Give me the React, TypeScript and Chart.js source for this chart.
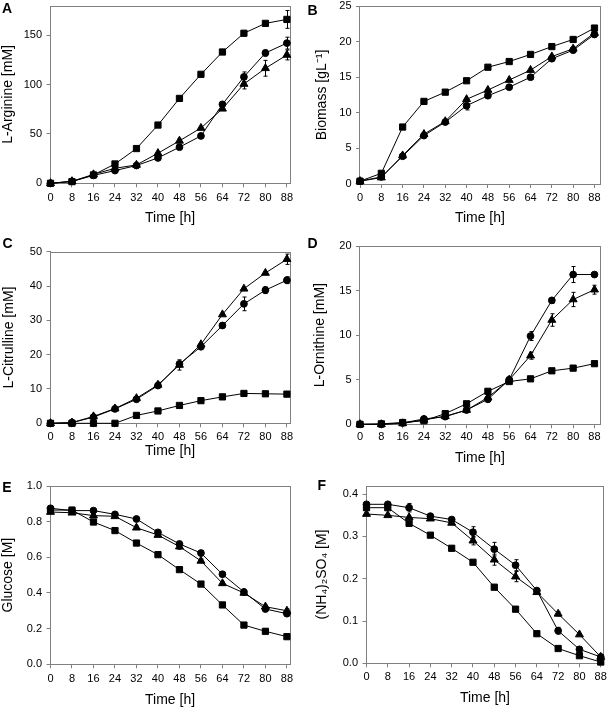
import React, { useEffect, useRef } from "react";
import { Chart, registerables } from "chart.js";

Chart.register(...registerables);

// ---------------- data ----------------
const timeH = [0, 8, 16, 24, 32, 40, 48, 56, 64, 72, 80, 88];
const xTickValues = [0, 8, 16, 24, 32, 40, 48, 56, 64, 72, 80, 88];

// A: L-Arginine [mM]
const argSquare = [0, 1.7, 8.5, 19.6, 35.2, 59, 86, 110.4, 133, 152, 162, 166];
const argCircle = [0, 2, 8, 12.9, 18, 25.7, 36.6, 48, 80, 107.8, 132, 142];
const argTriangle = [0, 2, 9, 15.2, 18.6, 30.5, 43, 56, 75.5, 100.6, 116.5, 130];
const argSquareErr = [0, 0, 0, 0, 0, 0, 0, 0, 0, 0, 2, 9];
const argCircleErr = [0, 0, 0, 0, 0, 0, 0, 0, 0, 5, 3, 6];
const argTriangleErr = [0, 0, 0, 2, 0, 0, 2, 0, 0, 5, 8, 5];
const argYTicks = [0, 50, 100, 150];

// B: Biomass [gL-1]
const bioSquare = [0.4, 1.5, 8.0, 11.6, 12.9, 14.5, 16.4, 17.2, 18.2, 19.3, 20.3, 21.9];
const bioCircle = [0.4, 1.0, 3.9, 6.8, 8.7, 11.0, 12.4, 13.6, 15.0, 17.6, 18.8, 21.0];
const bioTriangle = [0.4, 0.9, 4.0, 7.0, 8.8, 11.9, 13.2, 14.6, 16.0, 17.9, 19.0, 21.2];
const bioSquareErr = [0, 0, 0, 0, 0, 0, 0, 0, 0, 0, 0, 0];
const bioCircleErr = [0, 0, 0, 0, 0, 0.6, 0, 0, 0.3, 0, 0, 0];
const bioTriangleErr = [0, 0, 0, 0, 0, 0, 0, 0, 0, 0, 0, 0];
const bioYTicks = [0, 5, 10, 15, 20, 25];

// C: L-Citrulline [mM]
const citSquare = [0, 0, 0, 0, 2.3, 3.6, 5.2, 6.6, 7.7, 8.7, 8.6, 8.5];
const citCircle = [0, 0.2, 1.8, 4.2, 7.0, 11.0, 17.3, 22.3, 28.5, 34.8, 38.8, 41.7];
const citTriangle = [0, 0.2, 2.0, 4.3, 7.3, 11.2, 17.0, 23.0, 31.7, 39.2, 43.8, 47.8];
const citSquareErr = [0, 0, 0, 0, 0, 0, 0, 0, 0, 0, 0, 0];
const citCircleErr = [0, 0, 0, 0, 0, 0, 0, 0, 0, 2, 1, 1];
const citTriangleErr = [0, 0, 0, 0, 0, 0.8, 1.5, 0, 0, 0, 0, 1.5];
const citYTicks = [0, 10, 20, 30, 40, 50];

// D: L-Ornithine [mM]
const ornSquare = [0, 0.05, 0.2, 0.4, 1.2, 2.3, 3.7, 4.8, 5.1, 6.0, 6.3, 6.8];
const ornCircle = [0, 0, 0.15, 0.6, 0.86, 1.6, 2.8, 5.0, 9.9, 13.9, 16.8, 16.8];
const ornTriangle = [0, 0, 0.1, 0.5, 0.9, 1.6, 3.0, 5.0, 7.7, 11.7, 14.0, 15.1];
const ornSquareErr = [0, 0, 0, 0, 0, 0, 0, 0, 0, 0, 0, 0];
const ornCircleErr = [0, 0, 0, 0, 0, 0, 0, 0, 0.5, 0.3, 0.9, 0];
const ornTriangleErr = [0, 0, 0, 0, 0, 0.2, 0.2, 0, 0.4, 0.7, 0.8, 0.5];
const ornYTicks = [0, 5, 10, 15, 20];

// E: Glucose [M]
const gluSquare = [0.865, 0.865, 0.798, 0.75, 0.68, 0.615, 0.531, 0.45, 0.333, 0.22, 0.185, 0.155];
const gluCircle = [0.875, 0.862, 0.862, 0.841, 0.815, 0.74, 0.675, 0.624, 0.505, 0.406, 0.31, 0.284];
const gluTriangle = [0.854, 0.85, 0.834, 0.83, 0.766, 0.725, 0.66, 0.58, 0.454, 0.4, 0.323, 0.3];
const gluSquareErr = [0, 0, 0, 0, 0, 0, 0, 0.01, 0, 0, 0, 0];
const gluCircleErr = [0, 0, 0, 0, 0, 0.01, 0.01, 0.015, 0, 0, 0, 0.01];
const gluTriangleErr = [0, 0, 0.01, 0, 0.01, 0.01, 0.015, 0.01, 0.01, 0.01, 0.01, 0.01];
const gluYTicks = [0, 0.2, 0.4, 0.6, 0.8, 1.0];

// F: (NH4)2SO4 [M]
const amsSquare = [0.368, 0.368, 0.331, 0.303, 0.272, 0.239, 0.18, 0.128, 0.07, 0.035, 0.018, 0.003];
const amsCircle = [0.376, 0.376, 0.368, 0.348, 0.34, 0.31, 0.27, 0.232, 0.172, 0.077, 0.033, 0.015];
const amsTriangle = [0.353, 0.35, 0.345, 0.342, 0.332, 0.29, 0.245, 0.205, 0.168, 0.117, 0.068, 0.015];
const amsSquareErr = [0, 0, 0, 0, 0, 0.004, 0, 0, 0, 0, 0, 0];
const amsCircleErr = [0, 0, 0.01, 0, 0, 0.013, 0.016, 0.013, 0.005, 0.008, 0, 0];
const amsTriangleErr = [0, 0, 0, 0, 0, 0.01, 0.013, 0.012, 0, 0.005, 0, 0];
const amsYTicks = [0, 0.1, 0.2, 0.3, 0.4];

// ---------------- layout ----------------
const FONT = "'Liberation Sans', Arial, Helvetica, sans-serif";

type Series = { values: number[]; err: number[]; style: string; r: number };
type PanelCfg = {
  letter: string;
  letterX: number;
  letterY: number;
  x: number;
  y: number;
  w: number;
  h: number;
  plotL: number;
  plotT: number;
  plotR: number;
  plotB: number;
  xMax: number;
  yMax: number;
  yTicks: number[];
  decimals: number;
  yTitle: string;
  yTitleCenter: number;
  xTitleGap: number;
  xTickGap: number;
  series: Series[];
};

const mk = (sq: number[], sqE: number[], ci: number[], ciE: number[], tr: number[], trE: number[]): Series[] => [
  { values: sq, err: sqE, style: "rect", r: 4.4 },
  { values: tr, err: trE, style: "triangle", r: 4.6 },
  { values: ci, err: ciE, style: "circle", r: 3.4 },
];

const panels: PanelCfg[] = [
  {
    letter: "A", letterX: 2.5, letterY: 3, x: 0, y: 0, w: 305, h: 235,
    plotL: 50.5, plotT: 5, plotR: 289.6, plotB: 183.3, xMax: 89, yMax: 180,
    yTicks: argYTicks, decimals: 0, yTitle: "L-Arginine [mM]", yTitleCenter: 8.5,
    xTitleGap: 35, xTickGap: 15,
    series: mk(argSquare, argSquareErr, argCircle, argCircleErr, argTriangle, argTriangleErr),
  },
  {
    letter: "B", letterX: 308, letterY: 5, x: 305, y: 0, w: 304, h: 235,
    plotL: 360, plotT: 6, plotR: 599.8, plotB: 184, xMax: 90, yMax: 25,
    yTicks: bioYTicks, decimals: 0, yTitle: "Biomass [gL\u207B\u00B9]", yTitleCenter: 322.5,
    xTitleGap: 34.3, xTickGap: 14,
    series: mk(bioSquare, bioSquareErr, bioCircle, bioCircleErr, bioTriangle, bioTriangleErr),
  },
  {
    letter: "C", letterX: 3, letterY: 238, x: 0, y: 235, w: 305, h: 235,
    plotL: 50.5, plotT: 251.7, plotR: 289.6, plotB: 423.3, xMax: 89, yMax: 50,
    yTicks: citYTicks, decimals: 0, yTitle: "L-Citrulline [mM]", yTitleCenter: 9,
    xTitleGap: 28, xTickGap: 13.3,
    series: mk(citSquare, citSquareErr, citCircle, citCircleErr, citTriangle, citTriangleErr),
  },
  {
    letter: "D", letterX: 308, letterY: 238, x: 305, y: 235, w: 304, h: 235,
    plotL: 360, plotT: 246, plotR: 599.8, plotB: 424.3, xMax: 90, yMax: 20,
    yTicks: ornYTicks, decimals: 0, yTitle: "L-Ornithine [mM]", yTitleCenter: 320.5,
    xTitleGap: 34, xTickGap: 13,
    series: mk(ornSquare, ornSquareErr, ornCircle, ornCircleErr, ornTriangle, ornTriangleErr),
  },
  {
    letter: "E", letterX: 2.7, letterY: 481.7, x: 0, y: 470, w: 305, h: 240,
    plotL: 50.5, plotT: 486, plotR: 289.6, plotB: 664.3, xMax: 89, yMax: 1.0,
    yTicks: gluYTicks, decimals: 1, yTitle: "Glucose [M]", yTitleCenter: 8.5,
    xTitleGap: 36, xTickGap: 14.7,
    series: mk(gluSquare, gluSquareErr, gluCircle, gluCircleErr, gluTriangle, gluTriangleErr),
  },
  {
    letter: "F", letterX: 318, letterY: 480, x: 305, y: 470, w: 304, h: 240,
    plotL: 366.5, plotT: 485.7, plotR: 606, plotB: 663.3, xMax: 89, yMax: 0.42,
    yTicks: amsYTicks, decimals: 1, yTitle: "(NH\u2084)\u2082SO\u2084 [M]", yTitleCenter: 322,
    xTitleGap: 34.4, xTickGap: 13.3,
    series: mk(amsSquare, amsSquareErr, amsCircle, amsCircleErr, amsTriangle, amsTriangleErr),
  },
];

// ---------------- plugins ----------------
const framePlugin = {
  id: "frame",
  beforeDatasetsDraw(chart: any) {
    const { ctx, chartArea } = chart;
    ctx.save();
    ctx.strokeStyle = "#808080";
    ctx.lineWidth = 1;
    const l = Math.round(chartArea.left) - 0.5;
    const t = Math.round(chartArea.top) + 0.5;
    const r = Math.round(chartArea.right) + 0.5;
    const b = Math.round(chartArea.bottom) + 0.5;
    ctx.strokeRect(l, t, r - l, b - t);
    ctx.restore();
  },
};

const errorBarPlugin = {
  id: "errorBars",
  afterDatasetsDraw(chart: any) {
    const { ctx } = chart;
    const ys = chart.scales.y;
    chart.data.datasets.forEach((ds: any, i: number) => {
      const errs: number[] | undefined = ds.errors;
      if (!errs) return;
      const meta = chart.getDatasetMeta(i);
      ds.data.forEach((pt: any, j: number) => {
        const e = errs[j];
        if (!e) return;
        const el = meta.data[j];
        if (!el) return;
        const x = Math.round(el.x) + 0.5;
        const y1 = ys.getPixelForValue(pt.y + e);
        const y2 = ys.getPixelForValue(pt.y - e);
        ctx.save();
        ctx.strokeStyle = "#000";
        ctx.lineWidth = 1;
        ctx.beginPath();
        ctx.moveTo(x, y1);
        ctx.lineTo(x, y2);
        ctx.moveTo(x - 2, y1);
        ctx.lineTo(x + 2, y1);
        ctx.moveTo(x - 2, y2);
        ctx.lineTo(x + 2, y2);
        ctx.stroke();
        ctx.restore();
      });
    });
  },
};

// ---------------- components ----------------
function Panel({ cfg }: { cfg: PanelCfg }) {
  const ref = useRef<HTMLCanvasElement>(null);

  useEffect(() => {
    const canvas = ref.current;
    if (!canvas) return;
    const plotL = cfg.plotL - cfg.x;
    const plotT = cfg.plotT - cfg.y;
    const plotR = cfg.plotR - cfg.x;
    const plotB = cfg.plotB - cfg.y;
    const xAxisH = cfg.h - plotB;
    const titleLH = 14 * 1.2;
    const xTitlePad = xAxisH - cfg.xTitleGap - titleLH / 2;
    const yTitlePad = cfg.yTitleCenter - cfg.x - titleLH / 2;
    const tickLH = 11 * 1.2;
    const xTickPad = cfg.xTickGap - 4 - tickLH / 2;

    const zeroPad = (s: any) => {
      s.paddingLeft = 0;
      s.paddingRight = 0;
      s.paddingTop = 0;
      s.paddingBottom = 0;
    };

    const chart = new Chart(canvas, {
      type: "line",
      data: {
        datasets: cfg.series.map((s) => ({
          data: timeH.map((t, i) => ({ x: t, y: s.values[i] })),
          errors: s.err,
          borderColor: "#000",
          backgroundColor: "#000",
          borderWidth: 1,
          pointStyle: s.style,
          pointRadius: s.r,
          pointBorderWidth: 1,
          pointBorderColor: "#000",
          pointBackgroundColor: "#000",
          tension: 0,
          clip: false,
          fill: false,
        })) as any,
      },
      options: {
        animation: false,
        responsive: false,
        devicePixelRatio: 1,
        events: [],
        layout: { padding: { top: plotT, right: cfg.w - plotR, left: 0, bottom: 0 } },
        plugins: { legend: { display: false }, tooltip: { enabled: false }, title: { display: false } },
        scales: {
          x: {
            type: "linear",
            min: 0,
            max: cfg.xMax,
            afterBuildTicks: (s: any) => {
              s.ticks = xTickValues.map((v) => ({ value: v }));
            },
            afterFit: (s: any) => {
              s.height = xAxisH;
              zeroPad(s);
            },
            grid: { drawOnChartArea: false, drawTicks: true, tickLength: 4, color: "#808080", tickColor: "#808080" },
            border: { display: false },
            ticks: {
              color: "#000",
              font: { family: FONT, size: 11 },
              padding: xTickPad,
              maxRotation: 0,
              autoSkip: false,
              callback: (v: any) => String(v),
            },
            title: {
              display: true,
              text: "Time [h]",
              color: "#000",
              font: { family: FONT, size: 14 },
              padding: { top: 0, bottom: xTitlePad },
            },
          },
          y: {
            type: "linear",
            min: 0,
            max: cfg.yMax,
            afterBuildTicks: (s: any) => {
              s.ticks = cfg.yTicks.map((v) => ({ value: v }));
            },
            afterFit: (s: any) => {
              s.width = plotL;
              zeroPad(s);
            },
            grid: { drawOnChartArea: false, drawTicks: true, tickLength: 4, color: "#808080", tickColor: "#808080" },
            border: { display: false },
            ticks: {
              color: "#000",
              font: { family: FONT, size: 11 },
              padding: 4.5,
              autoSkip: false,
              callback: (v: any) => Number(v).toFixed(cfg.decimals),
            },
            title: {
              display: true,
              text: cfg.yTitle,
              color: "#000",
              font: { family: FONT, size: 14 },
              padding: { top: yTitlePad, bottom: 0 },
            },
          },
        },
      } as any,
      plugins: [framePlugin, errorBarPlugin],
    });
    return () => chart.destroy();
  }, [cfg]);

  return (
    <>
      <canvas
        ref={ref}
        width={cfg.w}
        height={cfg.h}
        style={{ position: "absolute", left: cfg.x, top: cfg.y, width: cfg.w, height: cfg.h }}
      />
      <div
        style={{
          position: "absolute",
          left: cfg.letterX - 0.5,
          top: cfg.letterY - 2,
          font: `bold 14px ${FONT}`,
          lineHeight: "14px",
          color: "#000",
        }}
      >
        {cfg.letter}
      </div>
    </>
  );
}

export default function App() {
  return (
    <div
      style={{
        position: "absolute",
        left: 0,
        top: 0,
        width: 609,
        height: 710,
        background: "#fff",
        overflow: "hidden",
      }}
    >
      {panels.map((p) => (
        <Panel key={p.letter} cfg={p} />
      ))}
    </div>
  );
}
